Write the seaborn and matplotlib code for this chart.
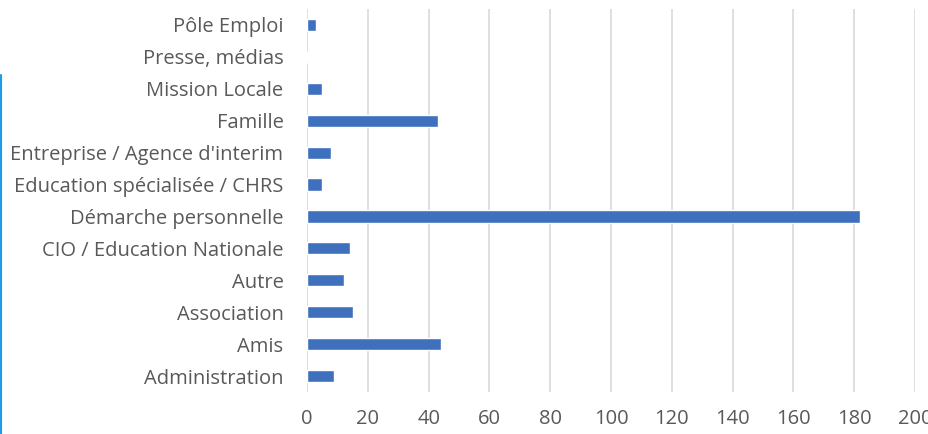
import pandas as pd
import seaborn as sns
import matplotlib.pyplot as plt
from matplotlib.lines import Line2D

# Values (top to bottom)
categories = [
    "Pôle Emploi",
    "Presse, médias",
    "Mission Locale",
    "Famille",
    "Entreprise / Agence d'interim",
    "Education spécialisée / CHRS",
    "Démarche personnelle",
    "CIO / Education Nationale",
    "Autre",
    "Association",
    "Amis",
    "Administration",
]
counts = [3, 0, 5, 43, 8, 5, 182, 14, 12, 15, 44, 9]
xticks = list(range(0, 201, 20))

df = pd.DataFrame({"categorie": categories, "nombre": counts})

sns.set_theme(style="white")
plt.rcParams["font.family"] = ["Open Sans", "DejaVu Sans"]

fig = plt.figure(figsize=(9.29, 4.34), dpi=100)
ax = fig.add_axes([0.3305, 0.0968, 0.6545, 0.8825])

sns.barplot(data=df, x="nombre", y="categorie", order=categories,
            color="#3f70bd", width=0.38, saturation=1, ax=ax)

ax.set_xlim(0, 200)
ax.set_xticks(xticks)
ax.set_xlabel("")
ax.set_ylabel("")
ax.grid(axis="x", color="#d9d9d9", linewidth=1.2)
ax.set_axisbelow(True)
for s in ax.spines.values():
    s.set_visible(False)
ax.tick_params(axis="x", length=0, pad=12, labelsize=14.5, labelcolor="#595959")
ax.tick_params(axis="y", length=0, pad=17, labelsize=14.5, labelcolor="#595959")
for lbl in ax.get_xticklabels():
    lbl.set_clip_on(False)

# blue selection border at the left edge of the reference screenshot
fig.add_artist(Line2D([1.5 / 929, 1.5 / 929], [0, 1 - 75 / 434],
                      transform=fig.transFigure, color="#1e9be6", linewidth=1.5))

fig.savefig("out.png", dpi=100)
